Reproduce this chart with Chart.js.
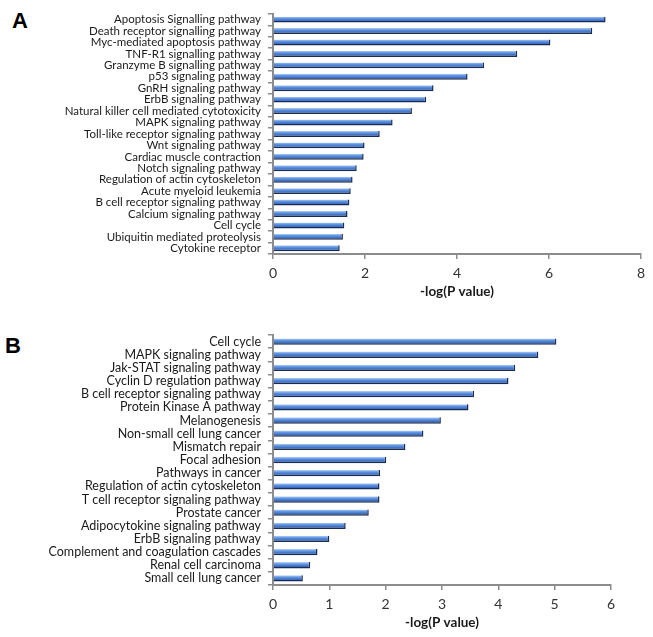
<!DOCTYPE html>
<html>
<head>
<meta charset="utf-8">
<script src="https://cdn.jsdelivr.net/npm/chart.js@4.4.1/dist/chart.umd.min.js"></script>
<style>
    body { margin: 0; background: #fff; width: 653px; height: 637px; position: relative; overflow: hidden; }
    .panel { position: absolute; left: 0; }
    .letter { position: absolute; font-family: "Liberation Sans", Arial, sans-serif; font-weight: bold; font-size: 22px; color: #000; }
</style>
</head>
<body>
<div class="letter" style="left:12px; top:8px;">A</div>
<div class="letter" style="left:5px; top:333px;">B</div>
<div class="panel" style="top:0;"><canvas id="chartA" width="653" height="310"></canvas></div>
<div class="panel" style="top:320px;"><canvas id="chartB" width="653" height="317"></canvas></div>
<script>
// Panel A
const pathwaysA = [
    "Apoptosis Signalling pathway", "Death receptor signalling pathway", "Myc-mediated apoptosis pathway",
    "TNF-R1 signalling pathway", "Granzyme B signalling pathway", "p53 signaling pathway",
    "GnRH signaling pathway", "ErbB signaling pathway", "Natural killer cell mediated cytotoxicity",
    "MAPK signaling pathway", "Toll-like receptor signaling pathway", "Wnt signaling pathway",
    "Cardiac muscle contraction", "Notch signaling pathway", "Regulation of actin cytoskeleton",
    "Acute myeloid leukemia", "B cell receptor signaling pathway", "Calcium signaling pathway",
    "Cell cycle", "Ubiquitin mediated proteolysis", "Cytokine receptor"
];
const valuesA = [7.23, 6.94, 6.03, 5.31, 4.59, 4.23, 3.49, 3.33, 3.02, 2.60, 2.32,
                 1.99, 1.97, 1.82, 1.73, 1.69, 1.66, 1.62, 1.55, 1.52, 1.45];
const xMaxA = 8, xStepA = 2;

// Panel B
const pathwaysB = [
    "Cell cycle", "MAPK signaling pathway", "Jak-STAT signaling pathway", "Cyclin D regulation pathway",
    "B cell receptor signaling pathway", "Protein Kinase A pathway", "Melanogenesis",
    "Non-small cell lung cancer", "Mismatch repair", "Focal adhesion", "Pathways in cancer",
    "Regulation of actin cytoskeleton", "T cell receptor signaling pathway", "Prostate cancer",
    "Adipocytokine signaling pathway", "ErbB signaling pathway", "Complement and coagulation cascades",
    "Renal cell carcinoma", "Small cell lung cancer"
];
const valuesB = [5.03, 4.71, 4.30, 4.18, 3.57, 3.47, 2.98, 2.67, 2.35, 2.01,
                 1.90, 1.89, 1.89, 1.70, 1.29, 1.00, 0.79, 0.66, 0.53];
const xMaxB = 6, xStepB = 1;

const axisTitle = "-log(P value)";
const labelFont = "Lato, 'Open Sans', sans-serif";

// gradient per bar, like the shiny excel bars
function barFill(c) {
    const chart = c.chart;
    const ys = chart.scales.y;
    if (!ys || c.dataIndex === undefined) return "#4a7fd0";
    const py = ys.getPixelForValue(c.dataIndex);
    if (!isFinite(py)) return "#4a7fd0";
    const g = chart.ctx.createLinearGradient(0, py - 3, 0, py + 3);
    g.addColorStop(0, "#b3cff5");
    g.addColorStop(0.3, "#6296e2");
    g.addColorStop(0.7, "#3a6bc0");
    g.addColorStop(1, "#172b55");
    return g;
}

function makePanel(id, labels, values, cfg) {
    const ctx = document.getElementById(id).getContext("2d");
    return new Chart(ctx, {
        type: "bar",
        data: {
            labels: labels,
            datasets: [{
                data: values,
                backgroundColor: barFill,
                borderColor: "#1a2c52",
                borderWidth: { top: 0, right: 1.5, bottom: 1.5, left: 0 },
                borderSkipped: "start",
                barPercentage: cfg.barPct,
                categoryPercentage: 1
            }]
        },
        options: {
            indexAxis: "y",
            responsive: false,
            animation: false,
            layout: { padding: { top: cfg.top, right: cfg.right, left: 0, bottom: 0 } },
            plugins: { legend: { display: false }, tooltip: { enabled: false } },
            scales: {
                x: {
                    min: 0,
                    max: cfg.max,
                    ticks: { stepSize: cfg.step, color: "#333", padding: 6, font: { family: labelFont, size: 14 } },
                    grid: { drawOnChartArea: false, tickLength: 5, color: "#8c8c8c", lineWidth: 1.5 },
                    border: { color: "#8c8c8c", width: 2 },
                    title: {
                        display: true,
                        text: axisTitle,
                        color: "#1a1a1a",
                        font: { family: labelFont, size: 13.5, weight: "bold" },
                        padding: { top: 0, bottom: cfg.titleBottom }
                    },
                    afterFit: s => { s.height = cfg.xHeight; }
                },
                y: {
                    ticks: { color: "#1a1a1a", padding: 7, autoSkip: false, font: { family: labelFont, size: cfg.fontSize } },
                    grid: { drawOnChartArea: false, tickLength: 5, color: "#8c8c8c", lineWidth: 1.5 },
                    border: { color: "#8c8c8c", width: 2 },
                    afterFit: s => { s.width = 273; }
                }
            }
        }
    });
}

makePanel("chartA", pathwaysA, valuesA, {
    max: xMaxA, step: xStepA, barPct: 0.52, top: 7, right: 12,
    xHeight: 56, titleBottom: 10, fontSize: 11.5
});
makePanel("chartB", pathwaysB, valuesB, {
    max: xMaxB, step: xStepB, barPct: 0.48, top: 15, right: 42,
    xHeight: 52, titleBottom: 6, fontSize: 12.5
});
</script>
</body>
</html>
